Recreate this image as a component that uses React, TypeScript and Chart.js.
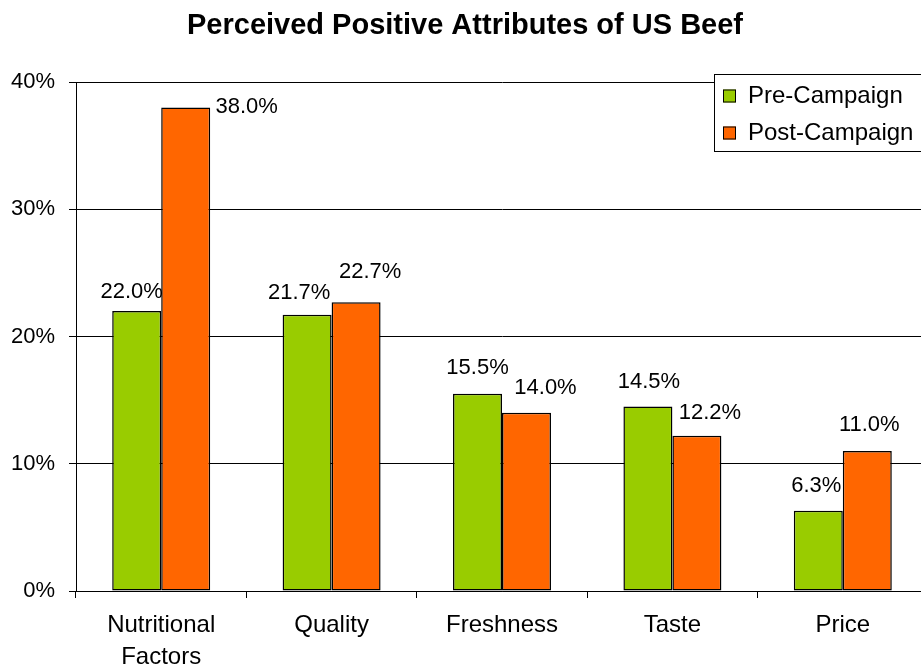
import React, { useEffect, useRef } from "react";
import { Chart, registerables } from "chart.js";

Chart.register(...registerables);

const categories: (string | string[])[] = [["Nutritional", "Factors"], "Quality", "Freshness", "Taste", "Price"];
const preCampaign = [22.0, 21.7, 15.5, 14.5, 6.3];
const postCampaign = [38.0, 22.7, 14.0, 12.2, 11.0];
const seriesNames = ["Pre-Campaign", "Post-Campaign"];
const seriesColors = ["#99CC00", "#FF6600"];
const yTickValues = [0, 10, 20, 30, 40];
const chartTitle = "Perceived Positive Attributes of US Beef";

// label nudges (dx, dy above bar top) mimicking the reference placement
const labelNudges = [
  [[-5, 19], [-8, 22], [0, 26], [1, 25], [-2, 25]],
  [[61, 1], [14, 30], [19, 25], [13, 23], [2, 26]],
];

const FONT = "'Liberation Sans', Arial, sans-serif";

export default function App() {
  const ref = useRef<HTMLCanvasElement | null>(null);

  useEffect(() => {
    const canvas = ref.current;
    if (!canvas) return;

    const titlePlugin = {
      id: "titleDraw",
      afterDraw(chart: any) {
        const ctx = chart.ctx;
        ctx.save();
        ctx.fillStyle = "#000";
        ctx.font = `bold 29px ${FONT}`;
        ctx.textAlign = "center";
        ctx.textBaseline = "alphabetic";
        ctx.fillText(chartTitle, chart.width / 2, 34);
        ctx.restore();
      },
    };

    const valueLabels = {
      id: "valueLabels",
      afterDatasetsDraw(chart: any) {
        const ctx = chart.ctx;
        ctx.save();
        ctx.fillStyle = "#000";
        ctx.font = `22px ${FONT}`;
        ctx.textAlign = "center";
        ctx.textBaseline = "middle";
        chart.data.datasets.forEach((ds: any, di: number) => {
          const meta = chart.getDatasetMeta(di);
          meta.data.forEach((bar: any, i: number) => {
            const [dx, dy] = labelNudges[di][i];
            ctx.fillText(ds.data[i].toFixed(1) + "%", bar.x + dx, bar.y - dy);
          });
        });
        ctx.restore();
      },
    };

    const legendBox = {
      id: "legendBox",
      afterDraw(chart: any) {
        const ctx = chart.ctx;
        ctx.save();
        const x0 = 714.5, y0 = 74.5;
        ctx.fillStyle = "#fff";
        ctx.fillRect(x0, y0, 240, 77);
        ctx.strokeStyle = "#000";
        ctx.lineWidth = 1;
        ctx.strokeRect(x0, y0, 240, 77);
        ctx.font = `24px ${FONT}`;
        ctx.textBaseline = "middle";
        ctx.textAlign = "left";
        chart.data.datasets.forEach((ds: any, i: number) => {
          const cy = 96 + i * 37;
          ctx.fillStyle = ds.backgroundColor;
          ctx.fillRect(723, cy - 6.5, 13, 13);
          ctx.strokeStyle = "#000";
          ctx.strokeRect(723.5, cy - 6, 12, 12);
          ctx.fillStyle = "#000";
          ctx.fillText(ds.label, 748, cy);
        });
        ctx.restore();
      },
    };

    const chart = new Chart(canvas, {
      type: "bar",
      data: {
        labels: categories,
        datasets: [
          {
            label: seriesNames[0],
            data: preCampaign,
            backgroundColor: seriesColors[0],
            borderColor: "#000",
            borderWidth: 1.5,
            borderSkipped: false,
            categoryPercentage: 0.575,
            barPercentage: 1,
          },
          {
            label: seriesNames[1],
            data: postCampaign,
            backgroundColor: seriesColors[1],
            borderColor: "#000",
            borderWidth: 1.5,
            borderSkipped: false,
            categoryPercentage: 0.575,
            barPercentage: 1,
          },
        ],
      },
      options: {
        responsive: false,
        animation: false,
        devicePixelRatio: 1,
        layout: { padding: { top: 82, left: 0, right: 2, bottom: 0 } },
        plugins: {
          legend: { display: false },
          title: { display: false },
          tooltip: { enabled: false },
        },
        scales: {
          x: {
            type: "category",
            offset: true,
            grid: {
              display: true,
              drawOnChartArea: false,
              drawTicks: true,
              tickLength: 7,
              color: "#000",
              offset: true,
            },
            border: { display: true, color: "#000" },
            ticks: {
              color: "#000",
              font: { family: FONT, size: 24, lineHeight: 1.33 },
              padding: 11,
              maxRotation: 0,
              autoSkip: false,
            },
            afterFit(scale: any) {
              scale.height = 76;
            },
          },
          y: {
            min: 0,
            max: 40,
            afterBuildTicks(scale: any) {
              scale.ticks = yTickValues.map((v) => ({ value: v }));
            },
            ticks: {
              color: "#000",
              font: { family: FONT, size: 22 },
              padding: 14,
              callback: (v: any) => `${v}%`,
            },
            grid: { color: "#000", tickLength: 7, lineWidth: 1 },
            border: { display: true, color: "#000" },
            afterFit(scale: any) {
              scale.width = 76;
            },
          },
        },
      },
      plugins: [titlePlugin, valueLabels, legendBox],
    } as any);

    return () => chart.destroy();
  }, []);

  return (
    <div
      style={{
        position: "fixed",
        left: 0,
        top: 0,
        width: 921,
        height: 667,
        overflow: "hidden",
        background: "#fff",
      }}
    >
      <canvas ref={ref} width={930} height={667} style={{ width: 930, height: 667, display: "block" }} />
    </div>
  );
}
